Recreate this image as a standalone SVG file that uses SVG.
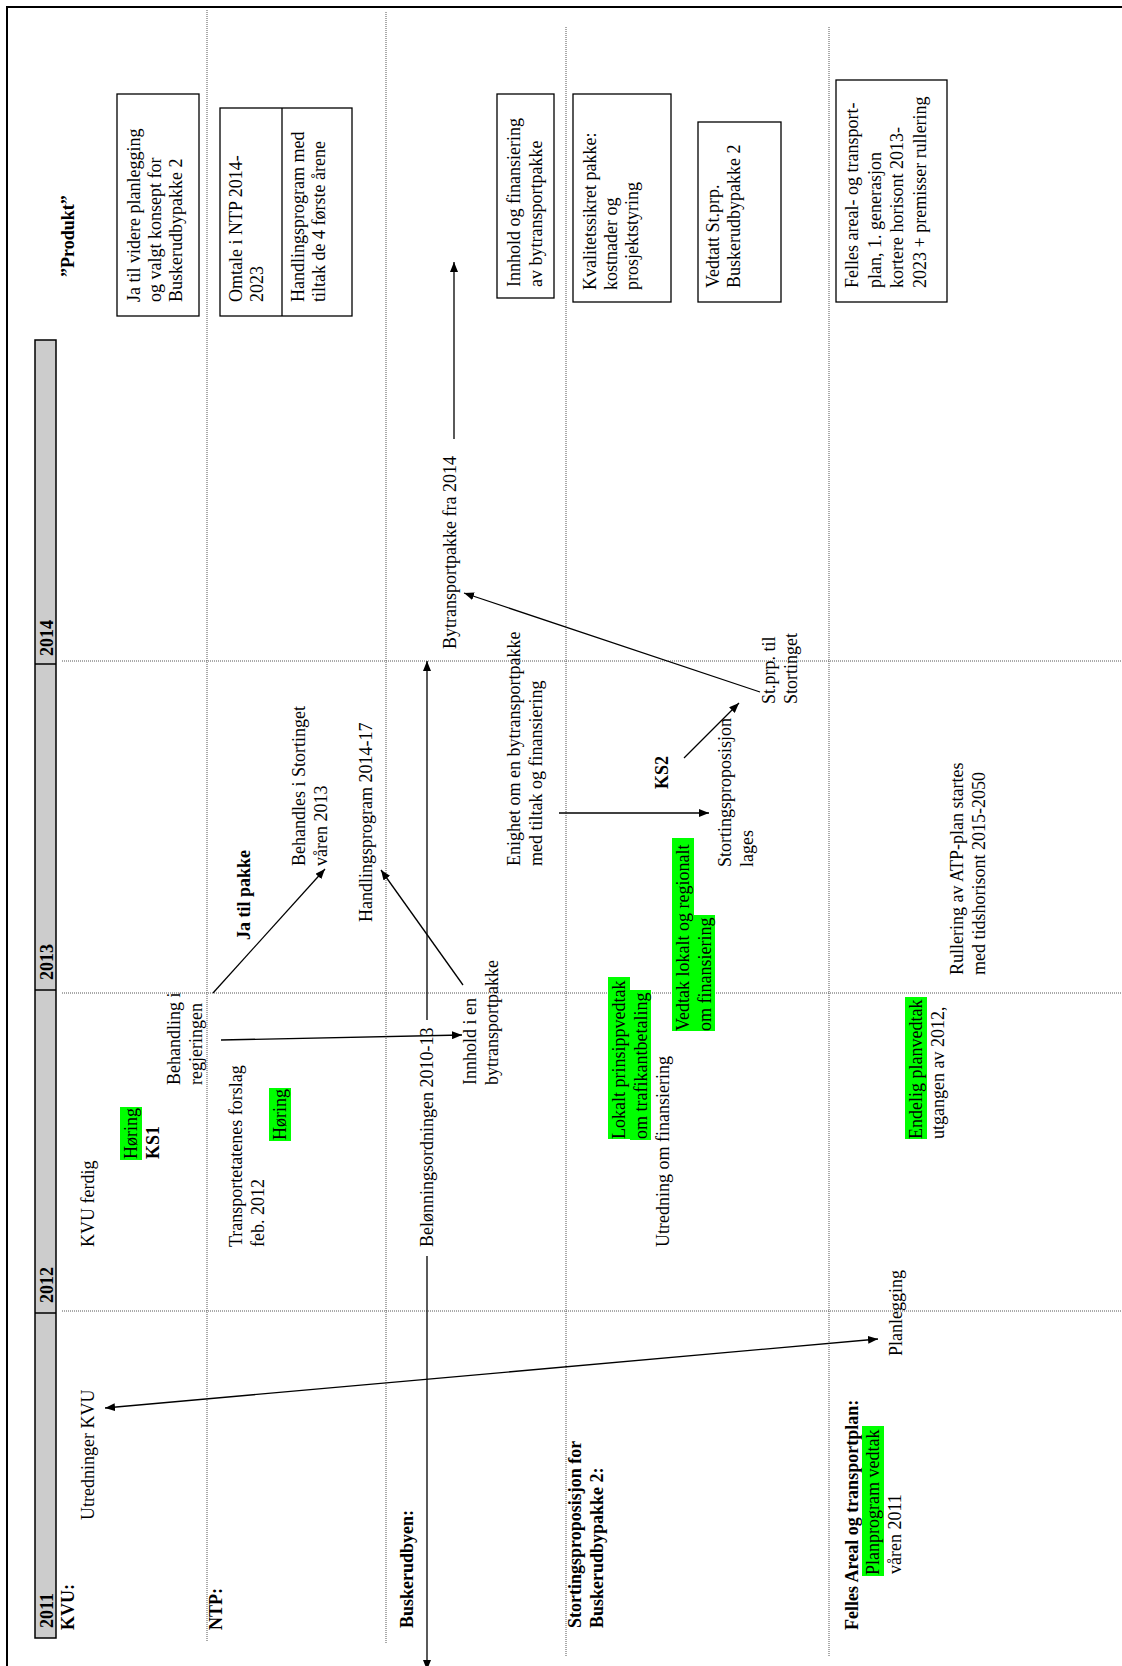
<svg xmlns="http://www.w3.org/2000/svg" width="1122" height="1666" viewBox="0 0 1122 1666">
<style>
text{font-family:"Liberation Serif","Times New Roman",serif;font-size:18px;fill:#000}
.b{font-weight:bold}
.box{fill:#fff;stroke:#000;stroke-width:1.3}
.dot{stroke:#555;stroke-width:1;stroke-dasharray:1 1;fill:none}
.hl{fill:#00ff00}
.arr{stroke:#000;stroke-width:1.3;fill:none;marker-end:url(#ah)}
</style>
<defs>
<marker id="ah" markerWidth="10" markerHeight="8" refX="10" refY="4" orient="auto-start-reverse" markerUnits="userSpaceOnUse"><path d="M0,0 L10,4 L0,8 z" fill="#000"/></marker>
</defs>
<rect width="1122" height="1666" fill="#fff"/>
<g transform="translate(0,1666) rotate(-90)">
<g id="frame">
<path d="M0,7 H1659 V1122" fill="none" stroke="#000" stroke-width="2"/>
</g>
<g id="years">
<rect x="28" y="35" width="1298" height="21" fill="#cccccc" stroke="#000" stroke-width="1.5"/>
<path d="M353,35 V56 M676,35 V56 M1002,35 V56" stroke="#000" stroke-width="1.5"/>
<text class="b" x="38" y="53">2011</text>
<text class="b" x="363" y="53">2012</text>
<text class="b" x="686" y="53">2013</text>
<text class="b" x="1010" y="53">2014</text>
</g>
<g id="grid">
<path class="dot" d="M25,207 H1656 M23,386 H1654 M10,566 H1639 M10,829 H1639"/>
<path class="dot" d="M355,62 V1122 M673,62 V1122 M1005,62 V1122"/>
</g>
<g id="row-labels">
<text class="b" x="36" y="74">KVU:</text>
<text class="b" x="36" y="222">NTP:</text>
<text class="b" x="38" y="413">Buskerudbyen:</text>
<text class="b"><tspan x="38" y="581">Stortingsproposisjon for</tspan><tspan x="38" y="603">Buskerudbypakke 2:</tspan></text>
<text class="b" x="36" y="858">Felles Areal og transportplan:</text>
<text class="b" x="1389" y="74">”Produkt”</text>
</g>
<g id="kvu">
<text x="146" y="94">Utredninger KVU</text>
<text x="419" y="94">KVU ferdig</text>
<rect class="hl" x="506" y="120" width="53" height="22"/>
<text x="507" y="136.5">Høring</text>
<text class="b" x="507" y="159">KS1</text>
</g>
<g id="ntp">
<text><tspan x="419" y="242">Transportetatenes forslag</tspan><tspan x="419" y="264">feb. 2012</tspan></text>
<rect class="hl" x="525" y="269" width="53" height="22"/>
<text x="526" y="285.5">Høring</text>
<text><tspan x="581" y="180">Behandling i</tspan><tspan x="581" y="202">regjeringen</tspan></text>
<text class="b" x="726" y="250">Ja til pakke</text>
<text><tspan x="800" y="305">Behandles i Stortinget</tspan><tspan x="800" y="327">våren 2013</tspan></text>
<text x="744" y="372">Handlingsprogram 2014-17</text>
</g>
<g id="buskerudbyen">
<text x="419" y="433">Belønningsordningen 2010-13</text>
<text><tspan x="581" y="476">Innhold i en</tspan><tspan x="581" y="498">bytransportpakke</tspan></text>
<text><tspan x="800" y="520">Enighet om en bytransportpakke</tspan><tspan x="800" y="542">med tiltak og finansiering</tspan></text>
<text x="1017" y="456">Bytransportpakke fra 2014</text>
</g>
<g id="stortingsprop">
<rect class="hl" x="527" y="608" width="162" height="22"/>
<rect class="hl" x="526" y="630" width="150" height="21"/>
<text><tspan x="527" y="624.5">Lokalt prinsippvedtak</tspan><tspan x="527" y="646.5">om trafikantbetaling</tspan></text>
<text x="419" y="669">Utredning om finansiering</text>
<rect class="hl" x="635" y="672" width="193" height="22"/>
<rect class="hl" x="635" y="694" width="116" height="21"/>
<text><tspan x="635" y="688.5">Vedtak lokalt og regionalt</tspan><tspan x="635" y="710.5">om finansiering</tspan></text>
<text><tspan x="799" y="731">Stortingsproposisjon</tspan><tspan x="799" y="753">lages</tspan></text>
<text class="b" x="877" y="668">KS2</text>
<text><tspan x="962" y="775">St.prp. til</tspan><tspan x="962" y="797">Stortinget</tspan></text>
</g>
<g id="felles">
<rect class="hl" x="90" y="862" width="150" height="22"/>
<text x="91" y="878.5">Planprogram vedtak</text>
<text x="92" y="901">våren 2011</text>
<text x="310" y="902">Planlegging</text>
<rect class="hl" x="527" y="905" width="142" height="22"/>
<text><tspan x="527" y="921.5">Endelig planvedtak</tspan><tspan x="527" y="944">utgangen av 2012,</tspan></text>
<text><tspan x="691" y="963">Rullering av ATP-plan startes</tspan><tspan x="691" y="985">med tidshorisont 2015-2050</tspan></text>
</g>
<g id="product-kvu">
<rect class="box" x="1350" y="117" width="222" height="82"/>
<text><tspan x="1364" y="140">Ja til videre planlegging</tspan><tspan x="1364" y="161">og valgt konsept for</tspan><tspan x="1364" y="182">Buskerudbypakke 2</tspan></text>
</g>
<g id="product-ntp">
<rect class="box" x="1350" y="220" width="208" height="132"/>
<path d="M1350,282 H1558" stroke="#000" stroke-width="1.3"/>
<text><tspan x="1364" y="242">Omtale i NTP 2014-</tspan><tspan x="1364" y="263">2023</tspan></text>
<text><tspan x="1364" y="304">Handlingsprogram med</tspan><tspan x="1364" y="325">tiltak de 4 første årene</tspan></text>
</g>
<g id="product-busk">
<rect class="box" x="1368" y="497" width="204" height="57"/>
<text><tspan x="1379" y="520">Innhold og finansiering</tspan><tspan x="1379" y="542">av bytransportpakke</tspan></text>
</g>
<g id="product-ks2">
<rect class="box" x="1364" y="573" width="208" height="98"/>
<text><tspan x="1376" y="596">Kvalitetssikret pakke:</tspan><tspan x="1376" y="617">kostnader og</tspan><tspan x="1376" y="638">prosjektstyring</tspan></text>
</g>
<g id="product-stprp">
<rect class="box" x="1364" y="698" width="180" height="83"/>
<text><tspan x="1378" y="719">Vedtatt St.prp.</tspan><tspan x="1378" y="740">Buskerudbypakke 2</tspan></text>
</g>
<g id="product-atp">
<rect class="box" x="1364" y="836" width="222" height="111"/>
<text><tspan x="1378" y="858">Felles areal- og transport-</tspan><tspan x="1378" y="880.5">plan, 1. generasjon</tspan><tspan x="1378" y="903">kortere horisont 2013-</tspan><tspan x="1378" y="925.5">2023 + premisser rullering</tspan></text>
</g>
<g id="connectors">
<line class="arr" x1="258" y1="105" x2="327" y2="878" style="marker-start:url(#ah)"/>
<line class="arr" x1="673" y1="213" x2="797" y2="325"/>
<line class="arr" x1="626" y1="221" x2="631" y2="462"/>
<line class="arr" x1="681" y1="463" x2="796" y2="381"/>
<line class="arr" x1="646" y1="427" x2="1005" y2="427"/>
<line class="arr" x1="410" y1="427" x2="-4" y2="427"/>
<line class="arr" x1="1227" y1="454" x2="1404" y2="454"/>
<line class="arr" x1="853" y1="559" x2="853" y2="709"/>
<line class="arr" x1="908" y1="684" x2="963" y2="739"/>
<line class="arr" x1="974" y1="760" x2="1073" y2="464"/>
</g>
</g>
</svg>
